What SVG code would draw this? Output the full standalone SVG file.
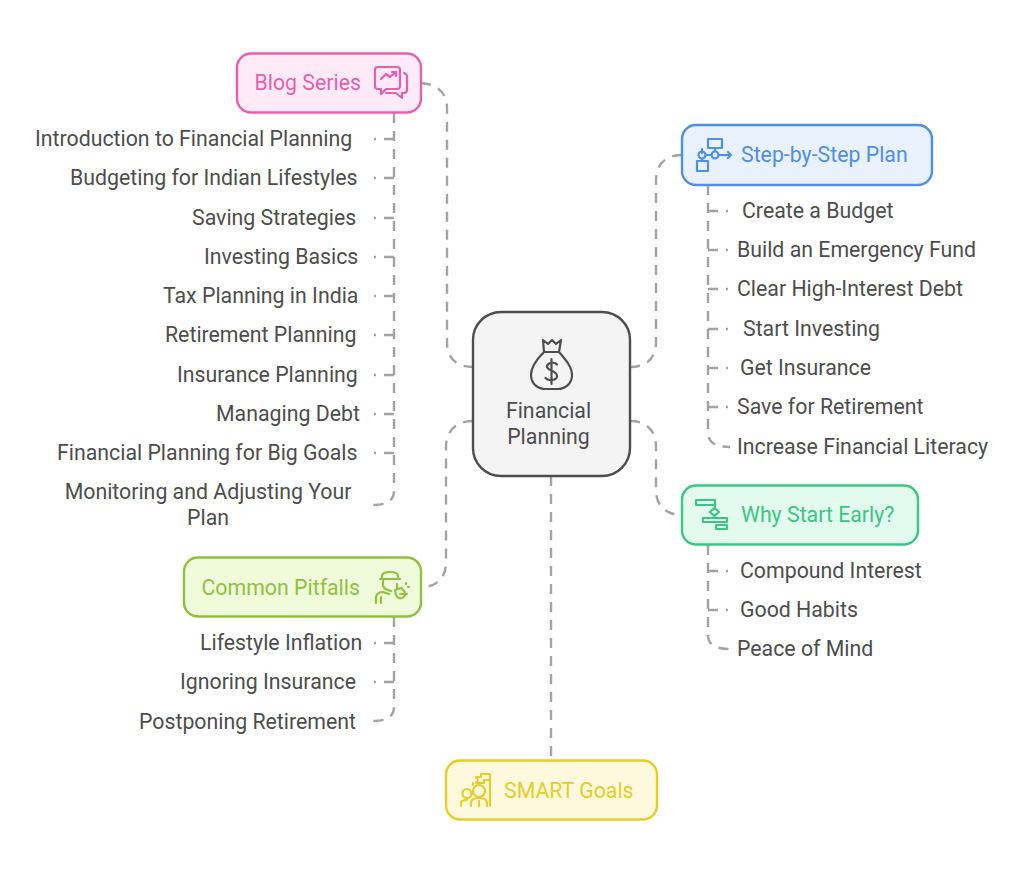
<svg xmlns="http://www.w3.org/2000/svg" width="1024" height="873" viewBox="0 0 1024 873">
<style>
text{font-family:Roboto,"Liberation Sans",sans-serif;font-size:21.3px}
.t{fill:#4d4d4d}
.n{stroke-width:2.4}
.c{fill:none;stroke:#a3a3a3;stroke-width:2.4;stroke-dasharray:10 8}
.i{fill:none;stroke-width:2.2;stroke-linecap:round;stroke-linejoin:round}
</style>
<rect width="1024" height="873" fill="#fff"/>
<g id="connectors">
<path class="c" d="M421 83C436 84 447 92 447 108V342C447 358 456 367 473 367"/>
<path class="c" d="M630 367C647 367 656 358 656 342V180C656 164 666 155 682 155"/>
<path class="c" d="M630 421C647 421 656 431 656 447V490C656 506 666 515 682 515"/>
<path class="c" d="M473 421C456 421 446 431 446 447V562C446 578 437 587 421 587"/>
<path class="c" d="M551 476V760"/>
<path class="c" d="M394 113V490C394 500 388 505 373 505"/>
<path class="c" d="M394 617V706C394 716 388 721 373 721"/>
<path class="c" d="M708 185V432C708 443 716 447 730 447"/>
<path class="c" d="M708 545V635C708 645 716 649 730 649"/>
<path class="c" d="M394 139H374M394 178H374M394 218H374M394 257H374M394 296H374M394 335H374M394 375H374M394 414H374M394 453H374"/>
<path class="c" d="M394 643H374M394 682H374"/>
<path class="c" d="M708 211H728M708 250H728M708 289H728M708 329H728M708 368H728M708 407H728"/>
<path class="c" d="M708 571H728M708 610H728"/>
</g>
<g id="center">
<rect class="n" x="473" y="312" width="157" height="164" rx="28" fill="#f4f4f4" stroke="#4d4d4d"/>
<path class="i" stroke="#4d4d4d" d="M544 352L543 340L548 344L552 340L556 344L561 340L559 352M544 352H559M544 352C536 360 531 367 531 375C531 384 538 389 546 389H557C565 389 572 384 572 375C572 367 566 360 559 352M557 364.500C555 362 548 362 547 366C546 371 557 370 557 376C557 381 548 381 545.500 378M551.500 359V384"/>
<text class="t" x="548.500" y="418" text-anchor="middle">Financial</text>
<text class="t" x="548.500" y="444" text-anchor="middle">Planning</text>
</g>
<g id="blog-series">
<rect class="n" x="237" y="53.500" width="184" height="59" rx="14" fill="#feebf7" stroke="#e85fb0"/>
<text x="254.500" y="90" fill="#e85fb0">Blog Series</text>
<path class="i" stroke="#e85fb0" d="M378 67H397Q400 67 400 70V86Q400 89 397 89H386L381 94V89H378Q375 89 375 86V70Q375 67 378 67ZM381 79L386 74L390 77L396 72M392 72H396V76M404 73Q407 74 407 77V90Q407 93 404 93H402V98L396 93H386"/>
</g>
<g id="introduction-items">
<text class="t" x="35" y="146">Introduction to Financial Planning</text>
<text class="t" x="70" y="185">Budgeting for Indian Lifestyles</text>
<text class="t" x="192" y="225">Saving Strategies</text>
<text class="t" x="204" y="264">Investing Basics</text>
<text class="t" x="163" y="303">Tax Planning in India</text>
<text class="t" x="165" y="342">Retirement Planning</text>
<text class="t" x="177" y="382">Insurance Planning</text>
<text class="t" x="216" y="421">Managing Debt</text>
<text class="t" x="57" y="460">Financial Planning for Big Goals</text>
<text class="t" x="208" y="499" text-anchor="middle">Monitoring and Adjusting Your</text>
<text class="t" x="208" y="525" text-anchor="middle">Plan</text>
</g>
<g id="step-by-step-plan">
<rect class="n" x="682" y="125" width="250" height="60" rx="14" fill="#e9f1fd" stroke="#4f8fe8"/>
<path class="i" stroke="#4f8fe8" d="M708 139H722V148H708ZM697 161H708V171H697ZM715 148V151M702 161V159M702 149V153M706 155H711M719 155H731M728 152L731 155L728 158"/>
<circle class="i" stroke="#4f8fe8" cx="702" cy="155" r="3.500"/>
<circle class="i" stroke="#4f8fe8" cx="715" cy="155" r="3.500"/>
<text x="741" y="162" fill="#4f8fe8">Step-by-Step Plan</text>
</g>
<g id="step-items">
<text class="t" x="742" y="218">Create a Budget</text>
<text class="t" x="737" y="257">Build an Emergency Fund</text>
<text class="t" x="737" y="296">Clear High-Interest Debt</text>
<text class="t" x="743" y="336">Start Investing</text>
<text class="t" x="740" y="375">Get Insurance</text>
<text class="t" x="737" y="414">Save for Retirement</text>
<text class="t" x="737" y="454">Increase Financial Literacy</text>
</g>
<g id="why-start-early">
<rect class="n" x="682" y="485.500" width="236" height="59" rx="14" fill="#e3fbee" stroke="#3cc584"/>
<path class="i" stroke="#3cc584" d="M696 500H715V505H696ZM703 518H727V522H703ZM716 525H727V529H716ZM715 505V508M714.500 508L719 512L714.500 516L710 512Z"/>
<text x="741" y="522" fill="#3cc584">Why Start Early?</text>
</g>
<g id="why-items">
<text class="t" x="740" y="578">Compound Interest</text>
<text class="t" x="740" y="617">Good Habits</text>
<text class="t" x="737" y="656">Peace of Mind</text>
</g>
<g id="common-pitfalls">
<rect class="n" x="184" y="557.500" width="237" height="59" rx="14" fill="#f0fbdc" stroke="#8fc23c"/>
<text x="201.500" y="594.500" fill="#8fc23c">Common Pitfalls</text>
<path class="i" stroke="#8fc23c" d="M382 579V576Q382 572 390 572Q398 572 398 576V579M380 579H400M383 579V586Q385 590 391 591M397 588V584M376 603V597Q377 592 383 592L389 594M381 597V603M395 590L401 588L405 592A4.500 4.500 0 1 1 396 595ZM406 583V584M409 587H408M400 594H407"/>
<text/>
</g>
<g id="pitfall-items">
<text class="t" x="200" y="650">Lifestyle Inflation</text>
<text class="t" x="180" y="689">Ignoring Insurance</text>
<text class="t" x="139" y="729">Postponing Retirement</text>
</g>
<g id="smart-goals">
<rect class="n" x="446" y="760.500" width="211" height="59" rx="14" fill="#fef9dc" stroke="#e6cd2a"/>
<path class="i" stroke="#e6cd2a" d="M490 774V806M490 774H481V777H476L478 780L476 783H484V780H490M473 783V785M479 785A6 6 0 1 1 479 797A6 6 0 1 1 479 785ZM471 806V803Q471 798 479 798Q487 798 487 803V806M479 801V806M467 789A4.500 4.500 0 1 1 467 798A4.500 4.500 0 1 1 467 789ZM461 806V803Q461 800 467 800"/>
<text x="504" y="797.500" fill="#e6cd2a">SMART Goals</text>
</g>
</svg>
